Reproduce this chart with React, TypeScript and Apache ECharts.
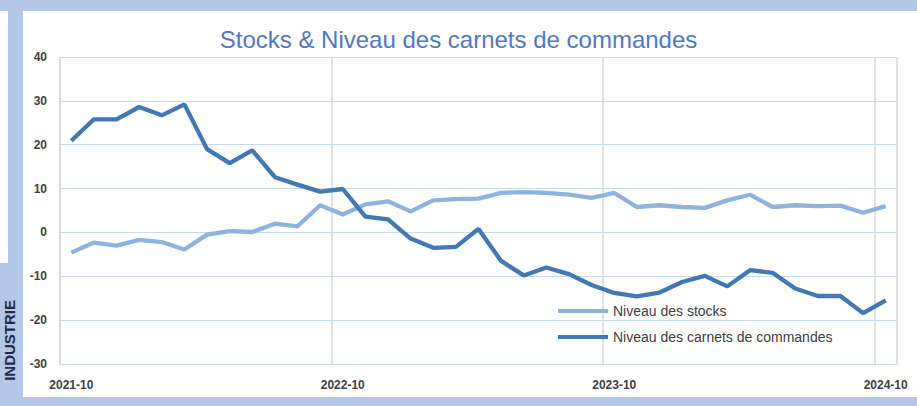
import React, { useEffect, useRef } from "react";
import * as echarts from "echarts";

const categories = [
  "2021-10", "2021-11", "2021-12", "2022-01", "2022-02", "2022-03", "2022-04", "2022-05", "2022-06",
  "2022-07", "2022-08", "2022-09", "2022-10", "2022-11", "2022-12", "2023-01", "2023-02", "2023-03",
  "2023-04", "2023-05", "2023-06", "2023-07", "2023-08", "2023-09", "2023-10", "2023-11", "2023-12",
  "2024-01", "2024-02", "2024-03", "2024-04", "2024-05", "2024-06", "2024-07", "2024-08", "2024-09",
  "2024-10",
];

const niveauStocks = [
  -4.6, -2.3, -3.0, -1.7, -2.2, -3.9, -0.5, 0.3, 0.1, 2.0, 1.4, 6.2, 4.1, 6.4, 7.1, 4.8, 7.3, 7.6,
  7.7, 9.0, 9.2, 9.0, 8.6, 7.9, 9.0, 5.8, 6.2, 5.8, 5.6, 7.3, 8.6, 5.8, 6.2, 6.0, 6.1, 4.5, 6.0,
];

const niveauCarnets = [
  20.9, 25.8, 25.8, 28.6, 26.7, 29.2, 19.0, 15.8, 18.7, 12.6, 10.9, 9.3, 9.9, 3.6, 3.0, -1.4, -3.5,
  -3.3, 0.8, -6.5, -9.8, -8.0, -9.5, -12.0, -13.8, -14.6, -13.7, -11.3, -9.9, -12.3, -8.6, -9.2,
  -12.8, -14.5, -14.5, -18.4, -15.5,
];

const seriesNames = ["Niveau des stocks", "Niveau des carnets de commandes"];
const titleText = "Stocks & Niveau des carnets de commandes";
const sideText = "INDUSTRIE";

export default function App() {
  const ref = useRef<HTMLDivElement>(null);

  useEffect(() => {
    document.body.style.margin = "0";
    if (!ref.current) return;
    const chart = echarts.init(ref.current, undefined, { renderer: "svg" });
    chart.setOption({
      animation: false,
      backgroundColor: "transparent",
      title: {
        text: titleText,
        left: "center",
        top: 22,
        textStyle: {
          fontFamily: "Liberation Sans",
          fontSize: 24,
          fontWeight: "normal",
          color: "#4f78c8",
        },
      },
      graphic: [
        {
          type: "text",
          x: 9,
          y: 300,
          rotation: Math.PI / 2,
          style: {
            text: sideText,
            font: "bold 15px 'Liberation Sans'",
            fill: "#1f2b4a",
            textAlign: "right",
            textVerticalAlign: "middle",
          },
        },
      ],
      legend: {
        orient: "vertical",
        left: 553,
        top: 299,
        itemWidth: 50,
        itemHeight: 4,
        itemGap: 12,
        icon: "rect",
        textStyle: {
          fontFamily: "Liberation Sans",
          fontSize: 14,
          color: "#404040",
          lineHeight: 14,
        },
        data: seriesNames,
      },
      grid: { left: 60, right: 20, top: 57, bottom: 42, containLabel: false },
      xAxis: {
        type: "category",
        data: categories,
        boundaryGap: true,
        axisLine: { show: false },
        axisTick: { show: false, interval: 11 },
        axisLabel: {
          interval: 11,
          margin: 15,
          fontFamily: "Liberation Sans",
          fontWeight: "bold",
          fontSize: 12,
          color: "#404040",
        },
        splitLine: { show: true, interval: 11, lineStyle: { color: "#d9d9d9", width: 1.5 } },
      },
      yAxis: {
        type: "value",
        min: -30,
        max: 40,
        interval: 10,
        axisLine: { show: true, lineStyle: { color: "#d9d9d9", width: 1.5 } },
        axisTick: { show: false },
        axisLabel: {
          margin: 13,
          fontFamily: "Liberation Sans",
          fontWeight: "bold",
          fontSize: 12,
          color: "#404040",
        },
        splitLine: { show: true, lineStyle: { color: "#c6daf0", width: 1.2 } },
      },
      series: [
        {
          name: seriesNames[0],
          type: "line",
          data: niveauStocks,
          symbol: "none",
          lineStyle: { width: 4.3, color: "#8fb3de" },
          itemStyle: { color: "#8fb3de" },
          z: 2,
        },
        {
          name: seriesNames[1],
          type: "line",
          data: niveauCarnets,
          symbol: "none",
          lineStyle: { width: 4.3, color: "#4278b3" },
          itemStyle: { color: "#4278b3" },
          z: 3,
        },
      ],
    });
    return () => chart.dispose();
  }, []);

  return (
    <div style={{ position: "relative", width: 917, height: 406, background: "#b4c7e7", overflow: "hidden" }}>
      <div style={{ position: "absolute", left: 0, top: 11, width: 8, height: 252, background: "#ffffff" }} />
      <div style={{ position: "absolute", left: 23, top: 11, width: 894, height: 386, background: "#ffffff" }} />
      <div ref={ref} style={{ position: "absolute", left: 0, top: 0, width: 917, height: 406 }} />
    </div>
  );
}
